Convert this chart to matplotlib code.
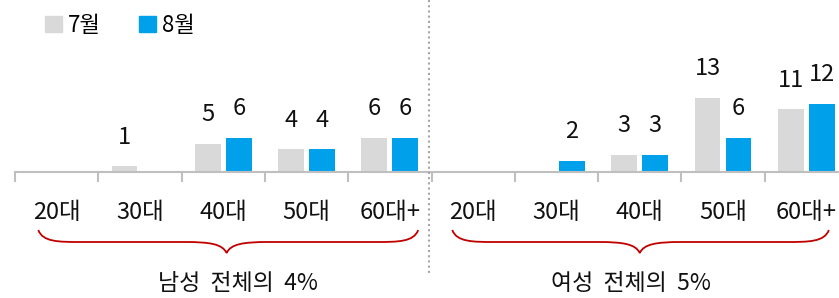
import matplotlib
matplotlib.use("Agg")
import matplotlib.pyplot as plt
import numpy as np
from matplotlib.path import Path
from matplotlib.patches import PathPatch, Patch
from matplotlib.lines import Line2D
from matplotlib.transforms import blended_transform_factory

plt.rcParams["font.family"] = ["Noto Sans CJK KR", "DejaVu Sans"]

# Data
categories = ["20대", "30대", "40대", "50대", "60대+"]
male_jul = [0, 1, 5, 4, 6]
male_aug = [0, 0, 6, 4, 6]
female_jul = [0, 0, 3, 13, 11]
female_aug = [0, 2, 3, 6, 12]
group_titles = ["남성  전체의  4%", "여성  전체의  5%"]
series_names = ["7월", "8월"]

GRAY = "#D9D9D9"
BLUE = "#00A0EA"
RED = "#C00000"
AXIS = "#BFBFBF"
TEXT = "#111111"

W, H, DPI = 839, 298, 100
fig = plt.figure(figsize=(W / DPI, H / DPI), dpi=DPI)
ax = fig.add_axes([15 / W, 126 / H, 833 / W, 125 / H])

jul = male_jul + female_jul
aug = male_aug + female_aug
labels = categories + categories
x = np.arange(len(labels))
bw = 0.31
off = 0.186

ax.bar(x - off, jul, width=bw, color=GRAY)
ax.bar(x + off, aug, width=bw, color=BLUE)

for xs, vals in ((x - off, jul), (x + off, aug)):
    for xi, v in zip(xs, vals):
        if v:
            ax.annotate(str(v), (xi, v), xytext=(0, 21), textcoords="offset points",
                        ha="center", va="center", fontsize=17, color=TEXT)

ax.set_xlim(-0.5, 9.5)
ax.set_ylim(0, 22)
for s in ("top", "right", "left"):
    ax.spines[s].set_visible(False)
ax.spines["bottom"].set_color(AXIS)
ax.spines["bottom"].set_linewidth(1.5)
ax.set_yticks([])
ax.set_xticks(x)
ax.set_xticklabels(labels, fontsize=17, color=TEXT)
ax.tick_params(axis="x", which="major", length=0, pad=21)
ax.set_xticks(np.arange(-0.5, 10, 1.0), minor=True)
ax.tick_params(axis="x", which="minor", length=7, width=1.5, color=AXIS, direction="out")

# data x blended with figure-pixel y (measured from the top)
tr = blended_transform_factory(ax.transData, fig.transFigure)


def fy(py):
    return 1 - py / H


# dotted separator between the two groups
fig.add_artist(Line2D([4.466, 4.466], [fy(0), fy(275)], transform=tr, color="#A6A6A6",
                      linestyle=(0, (1, 1.5)), linewidth=1.5))


def brace(x0, x1, xm, yt=230, ym=242, ytip=253, a=0.5):
    verts = [
        (x0, fy(yt)),
        (x0 + 0.1 * a, fy(ym)), (x0 + 0.5 * a, fy(ym)), (x0 + a, fy(ym)),
        (xm - a, fy(ym)),
        (xm - 0.4 * a, fy(ym)), (xm - 0.1 * a, fy(ym + 2)), (xm, fy(ytip)),
        (xm + 0.1 * a, fy(ym + 2)), (xm + 0.4 * a, fy(ym)), (xm + a, fy(ym)),
        (x1 - a, fy(ym)),
        (x1 - 0.5 * a, fy(ym)), (x1 - 0.1 * a, fy(ym)), (x1, fy(yt)),
    ]
    codes = [Path.MOVETO, Path.CURVE4, Path.CURVE4, Path.CURVE4, Path.LINETO,
             Path.CURVE4, Path.CURVE4, Path.CURVE4,
             Path.CURVE4, Path.CURVE4, Path.CURVE4, Path.LINETO,
             Path.CURVE4, Path.CURVE4, Path.CURVE4]
    fig.add_artist(PathPatch(Path(verts, codes), transform=tr, facecolor="none",
                             edgecolor=RED, linewidth=1.3))


brace(-0.22, 4.34, 2.04)
brace(4.75, 9.27, 7.0)

for xm, t in zip((2.18, 6.9), group_titles):
    fig.text(xm, fy(283), t, transform=tr, ha="center", va="center", fontsize=16.5,
             color=TEXT)

handles = [Patch(color=GRAY), Patch(color=BLUE)]
fig.legend(handles, series_names, loc="upper left", bbox_to_anchor=(36 / W, 1 - 5 / H),
           ncol=2, frameon=False, fontsize=16, handlelength=0.75, handleheight=0.75,
           handletextpad=0.3, columnspacing=1.7, borderaxespad=0)

fig.savefig("out.png", dpi=DPI)
